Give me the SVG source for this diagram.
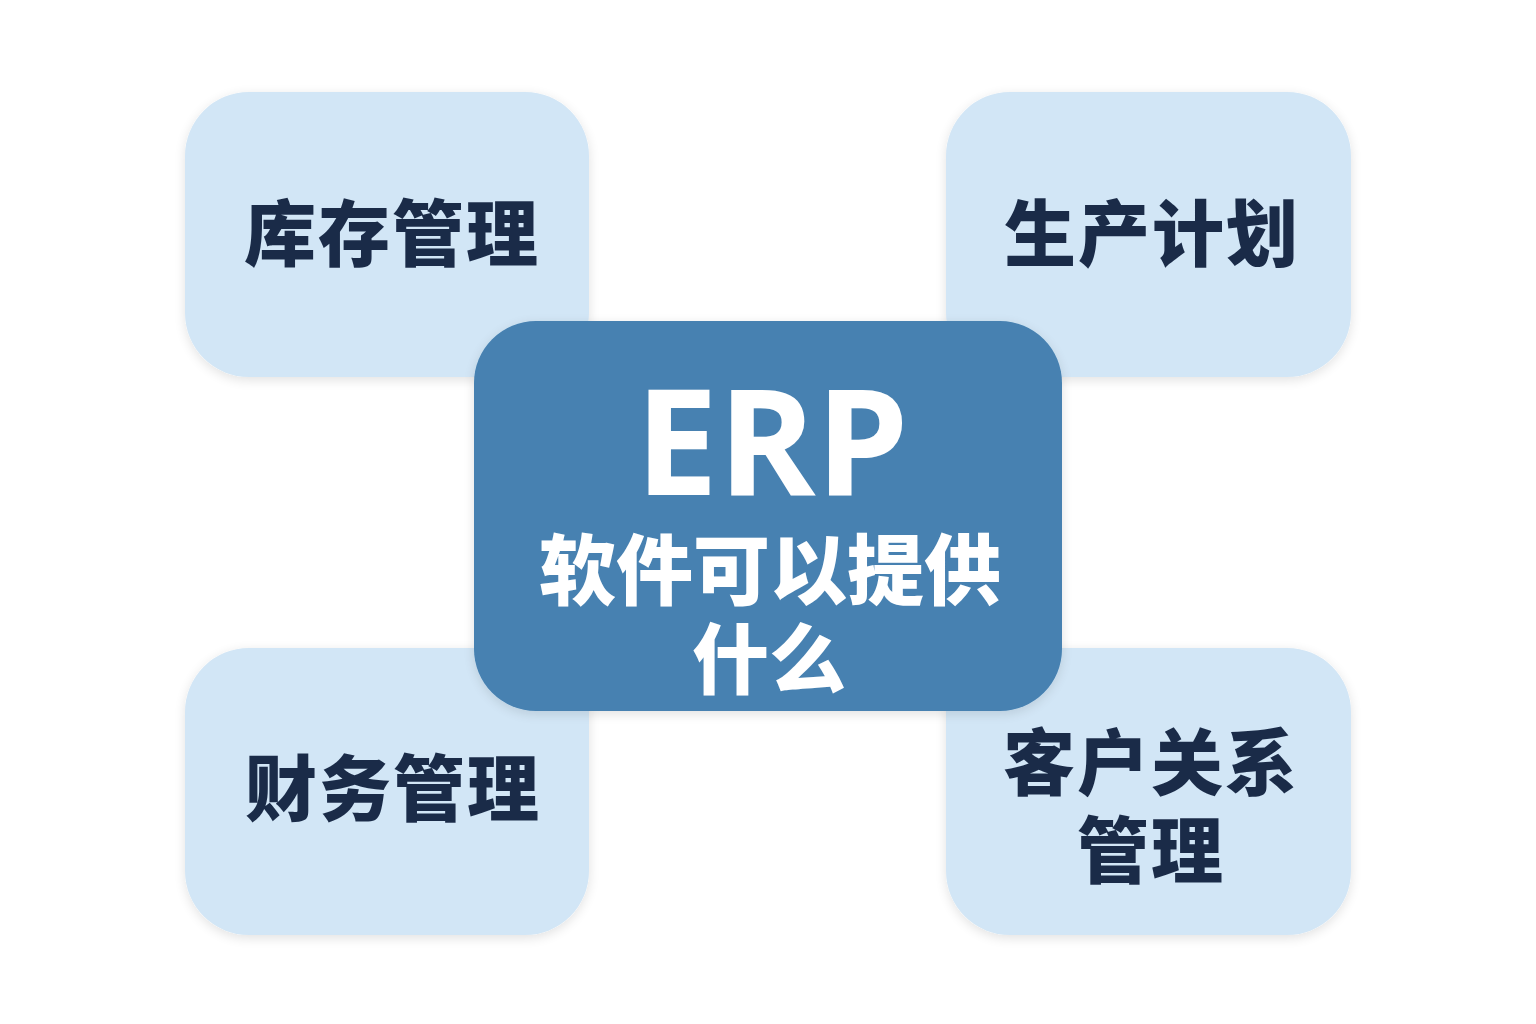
<svg xmlns="http://www.w3.org/2000/svg" width="1536" height="1024" viewBox="0 0 1536 1024">
<defs>
<filter id="sh" x="-10%" y="-10%" width="120%" height="120%">
<feGaussianBlur in="SourceAlpha" stdDeviation="6"/>
<feOffset dx="0" dy="3"/>
<feComponentTransfer><feFuncA type="linear" slope="0.12"/></feComponentTransfer>
<feMerge><feMergeNode/><feMergeNode in="SourceGraphic"/></feMerge>
</filter>
</defs>
<style>
.box{fill:#D2E6F6;filter:url(#sh)}
.center{fill:#4681B1;filter:url(#sh)}
.lbl{font-family:"Noto Sans CJK SC","Noto Sans",sans-serif;font-weight:800;font-size:72px;fill:#1A2B48;text-anchor:middle;letter-spacing:2px}
.ct{font-family:"Noto Sans CJK SC","Open Sans",sans-serif;font-weight:800;fill:#FFFFFF;text-anchor:middle}
</style>
<rect width="1536" height="1024" fill="#FFFFFF"/>
<g id="connectors"></g>
<g id="node-inventory">
<rect class="box" x="185" y="92" width="404" height="285" rx="64"/>
<text class="lbl" x="392" y="260">库存管理</text>
</g>
<g id="node-production">
<rect class="box" x="946" y="92" width="405" height="285" rx="64"/>
<text class="lbl" x="1152" y="260">生产计划</text>
</g>
<g id="node-finance">
<rect class="box" x="185" y="648" width="404" height="287" rx="64"/>
<text class="lbl" x="393" y="815">财务管理</text>
</g>
<g id="node-crm">
<rect class="box" x="946" y="648" width="405" height="287" rx="64"/>
<text class="lbl" x="1151" y="789">客户关系</text>
<text class="lbl" x="1151" y="877">管理</text>
</g>
<g id="node-center">
<rect class="center" x="474" y="321" width="588" height="390" rx="62"/>
<text class="ct" x="772" y="495" style="font-family:'Open Sans','Noto Sans',sans-serif;font-weight:700;font-size:148px">ERP</text>
<text class="ct" x="770" y="599" style="font-size:77px">软件可以提供</text>
<text class="ct" x="769" y="688" style="font-size:77px">什么</text>
</g>
</svg>
